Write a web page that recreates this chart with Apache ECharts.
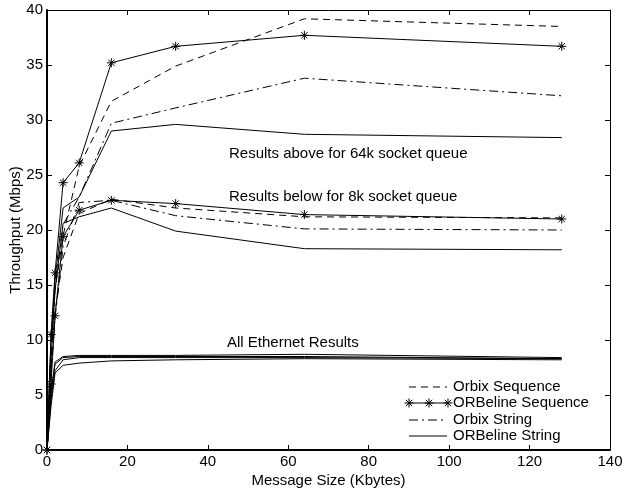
<!DOCTYPE html>
<html>
<head>
<meta charset="utf-8">
<script src="https://cdn.jsdelivr.net/npm/echarts@6/dist/echarts.min.js"></script>
<style>
    html, body { margin: 0; padding: 0; background: #fff; }
    #throughput { width: 625px; height: 491px; }
</style>
</head>
<body>
<div id="throughput"></div>
<script>
    // message sizes (Kbytes)
    const msgSizes = [0, 1, 2, 4, 8, 16, 32, 64, 128];

    // 64k socket queue
    const orbixSeq64 = [0, 9.0, 14.5, 19.5, 25.8, 31.7, 34.9, 39.2, 38.5];
    const orbelineSeq64 = [0, 10.5, 16.1, 24.3, 26.1, 35.2, 36.7, 37.7, 36.7];
    const orbixStr64 = [0, 9.5, 15.0, 20.5, 23.0, 29.7, 31.1, 33.8, 32.2];
    const orbelineStr64 = [0, 10.0, 15.5, 22.0, 23.0, 29.0, 29.6, 28.7, 28.4];

    // 8k socket queue
    const orbixSeq8 = [0, 7.5, 12.5, 17.5, 21.5, 22.8, 22.0, 21.2, 21.1];
    const orbelineSeq8 = [0, 6.0, 12.2, 19.4, 21.8, 22.7, 22.4, 21.4, 21.0];
    const orbixStr8 = [0, 7.0, 12.0, 18.5, 22.5, 22.7, 21.3, 20.1, 20.0];
    const orbelineStr8 = [0, 8.0, 14.5, 20.6, 21.2, 22.0, 19.9, 18.3, 18.2];

    // ethernet (plain lines, no markers)
    const ethernetA = [0, 5.0, 8.0, 8.5, 8.6, 8.6, 8.6, 8.7, 8.4];
    const ethernetB = [0, 5.5, 7.8, 8.4, 8.5, 8.5, 8.5, 8.5, 8.3];
    const ethernetC = [0, 4.5, 7.2, 8.2, 8.4, 8.4, 8.4, 8.4, 8.3];
    const ethernetD = [0, 4.0, 7.0, 7.7, 7.9, 8.1, 8.2, 8.3, 8.2];

    const xTicks = [0, 20, 40, 60, 80, 100, 120, 140];
    const yTicks = [0, 5, 10, 15, 20, 25, 30, 35, 40];
    const legendNames = ['Orbix Sequence', 'ORBeline Sequence', 'Orbix String', 'ORBeline String'];

    const star = 'path://M0,5 L10,5 M5,0 L5,10 M1.5,1.5 L8.5,8.5 M8.5,1.5 L1.5,8.5';
    const fontFamily = 'Liberation Sans, Arial, sans-serif';
    const dashed = [7, 5];
    const dashDot = [9, 4, 2, 4];

    const styles = {
        'Orbix Sequence': { type: dashed, symbol: 'none' },
        'ORBeline Sequence': { type: 'solid', symbol: star },
        'Orbix String': { type: dashDot, symbol: 'none' },
        'ORBeline String': { type: 'solid', symbol: 'none' },
        'Ethernet': { type: 'solid', symbol: 'none' }
    };

    function fnMakeSeries(name, values) {
        let style = styles[name];
        return {
            name: name,
            type: 'line',
            data: msgSizes.map(function (x, i) { return [x, values[i]]; }),
            symbol: style.symbol,
            symbolSize: 9,
            showSymbol: style.symbol !== 'none',
            itemStyle: { color: '#000', borderColor: '#000', borderWidth: 1 },
            lineStyle: { color: '#000', width: 1, type: style.type },
            emphasis: { disabled: true },
            animation: false
        };
    }

    function fnValueAxis(position, ticks, showLabels, width) {
        return {
            type: 'value',
            position: position,
            min: ticks[0],
            max: ticks[ticks.length - 1],
            interval: ticks[1] - ticks[0],
            axisLine: { show: true, onZero: false, lineStyle: { color: '#000', width: width } },
            axisTick: { show: true, inside: true, length: 5, lineStyle: { color: '#000' } },
            axisLabel: { show: showLabels, color: '#000', fontSize: 15, fontFamily: fontFamily, margin: 4 },
            splitLine: { show: false }
        };
    }

    function fnStar(cx, cy) {
        let r = 4.5, d = 3.2;
        let segs = [[cx - r, cy, cx + r, cy], [cx, cy - r, cx, cy + r],
                    [cx - d, cy - d, cx + d, cy + d], [cx + d, cy - d, cx - d, cy + d]];
        return segs.map(function (s) {
            return { type: 'line', shape: { x1: s[0], y1: s[1], x2: s[2], y2: s[3] }, style: { stroke: '#000', lineWidth: 1 } };
        });
    }

    // legend drawn by hand so the samples look like the line styles
    function fnLegend() {
        let items = [];
        let x1 = 409, x2 = 447, tx = 453;
        let rows = [387, 403, 420, 436];
        let dashes = [dashed, null, dashDot, null];
        legendNames.forEach(function (name, i) {
            let y = rows[i];
            items.push({ type: 'line', shape: { x1: x1, y1: y, x2: x2, y2: y },
                         style: { stroke: '#000', lineWidth: 1, lineDash: dashes[i] } });
            if (i === 1) {
                items = items.concat(fnStar(x1, y), fnStar((x1 + x2) / 2 + 1, y), fnStar(x2 + 1, y));
            }
            items.push({ type: 'text', left: tx, top: y - 8,
                         style: { text: name, fill: '#000', fontSize: 15, fontFamily: fontFamily } });
        });
        return items;
    }

    function fnGetThroughputChart() {
        let chartDom = document.getElementById('throughput');
        let myChart = echarts.init(chartDom);

        let xBottom = fnValueAxis('bottom', xTicks, true, 2);
        xBottom.name = 'Message Size (Kbytes)';
        xBottom.nameLocation = 'middle';
        xBottom.nameGap = 23;
        xBottom.nameMoveOverlap = false;
        xBottom.nameTextStyle = { color: '#000', fontSize: 15, fontFamily: fontFamily };

        let yLeft = fnValueAxis('left', yTicks, true, 2);
        yLeft.name = 'Throughput (Mbps)';
        yLeft.nameLocation = 'middle';
        yLeft.nameGap = 24;
        yLeft.nameMoveOverlap = false;
        yLeft.nameTextStyle = { color: '#000', fontSize: 15, fontFamily: fontFamily };

        let series = [
            fnMakeSeries('Orbix Sequence', orbixSeq64),
            fnMakeSeries('ORBeline Sequence', orbelineSeq64),
            fnMakeSeries('Orbix String', orbixStr64),
            fnMakeSeries('ORBeline String', orbelineStr64),
            fnMakeSeries('Orbix Sequence', orbixSeq8),
            fnMakeSeries('ORBeline Sequence', orbelineSeq8),
            fnMakeSeries('Orbix String', orbixStr8),
            fnMakeSeries('ORBeline String', orbelineStr8),
            fnMakeSeries('Ethernet', ethernetA),
            fnMakeSeries('Ethernet', ethernetB),
            fnMakeSeries('Ethernet', ethernetC),
            fnMakeSeries('Ethernet', ethernetD)
        ];

        let textStyle = { fill: '#000', fontSize: 15, fontFamily: fontFamily };

        myChart.setOption({
            animation: false,
            grid: { left: 47, right: 15, top: 10, bottom: 41, containLabel: false, outerBoundsMode: 'none' },
            xAxis: [xBottom, fnValueAxis('top', xTicks, false, 1)],
            yAxis: [yLeft, fnValueAxis('right', yTicks, false, 1)],
            graphic: [
                { type: 'text', left: 229, top: 146, style: Object.assign({ text: 'Results above for 64k socket queue' }, textStyle) },
                { type: 'text', left: 229, top: 189, style: Object.assign({ text: 'Results below for 8k socket queue' }, textStyle) },
                { type: 'text', left: 227, top: 335, style: Object.assign({ text: 'All Ethernet Results' }, textStyle) }
            ].concat(fnLegend()),
            series: series
        });

        return myChart;
    }

    fnGetThroughputChart();
</script>
</body>
</html>
